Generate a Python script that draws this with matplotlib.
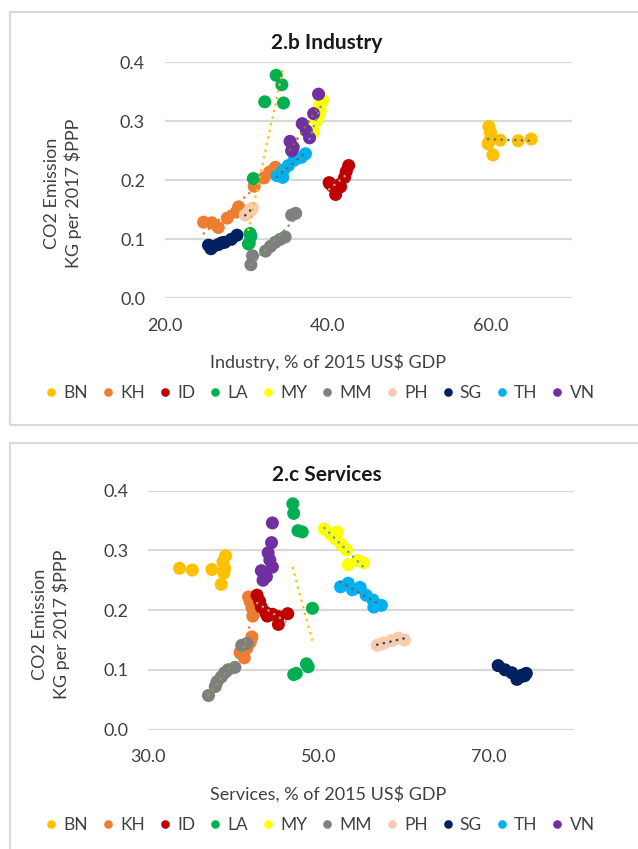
import numpy as np
import matplotlib
matplotlib.use("Agg")
import matplotlib.pyplot as plt
from matplotlib.lines import Line2D
from matplotlib.patches import Rectangle

plt.rcParams['font.family'] = ['Lato', 'DejaVu Sans']

countries = ['BN', 'KH', 'ID', 'LA', 'MY', 'MM', 'PH', 'SG', 'TH', 'VN']
marker_colors = ['#FFC000', '#ED7D31', '#C00000', '#00B050', '#FFFF00',
                 '#7F7F7F', '#F8CBAD', '#002060', '#00B0F0', '#7030A0']
# excel picks the trendline colours from its own series palette
trend_colors = ['#4472C4', '#ED7D31', '#A5A5A5', '#FFC000', '#5B9BD5',
                '#70AD47', '#264478', '#9E480E', '#636363', '#997300']

# CO2 emission, kg per 2017 $PPP
co2_BN = [0.291, 0.281, 0.270, 0.267, 0.268, 0.262, 0.243, 0.270]
co2_KH = [0.222, 0.214, 0.204, 0.190, 0.155, 0.146, 0.136, 0.128, 0.129, 0.120]
co2_ID = [0.225, 0.215, 0.205, 0.196, 0.190, 0.193, 0.176, 0.189, 0.194]
co2_LA = [0.378, 0.362, 0.333, 0.331, 0.203, 0.110, 0.105, 0.094, 0.092]
co2_MY = [0.336, 0.327, 0.331, 0.319, 0.310, 0.301, 0.276, 0.283, 0.279]
co2_MM = [0.057, 0.072, 0.080, 0.088, 0.095, 0.100, 0.104, 0.141, 0.144]
co2_PH = [0.141, 0.143, 0.145, 0.149, 0.153, 0.150]
co2_SG = [0.107, 0.100, 0.095, 0.091, 0.088, 0.084, 0.094, 0.090]
co2_TH = [0.245, 0.239, 0.238, 0.234, 0.225, 0.217, 0.208, 0.205]
co2_VN = [0.346, 0.313, 0.296, 0.284, 0.272, 0.266, 0.256, 0.250]

# industry, % of 2015 US$ GDP
ind_BN = [59.8, 60.0, 65.0, 63.4, 61.2, 59.7, 60.3, 60.0]
ind_KH = [33.6, 32.9, 32.2, 31.0, 29.1, 28.8, 27.7, 25.8, 24.8, 26.6]
ind_ID = [42.6, 42.3, 42.1, 40.2, 40.6, 41.5, 41.0, 41.6, 40.3]
ind_LA = [33.7, 34.4, 32.3, 34.6, 30.9, 30.5, 30.6, 30.4, 30.3]
ind_MY = [39.4, 39.0, 39.2, 39.1, 38.9, 38.7, 37.8, 38.3, 38.0]
ind_MM = [30.6, 30.8, 32.4, 33.0, 33.6, 34.2, 34.8, 35.6, 36.1]
ind_PH = [29.9, 30.1, 30.3, 30.6, 30.8, 30.5]
ind_SG = [28.9, 28.2, 27.4, 26.6, 26.0, 25.7, 27.0, 25.4]
ind_TH = [37.3, 36.8, 36.3, 35.9, 35.2, 34.6, 33.8, 34.5]
ind_VN = [38.9, 38.3, 36.9, 37.4, 37.8, 35.4, 35.8, 35.6]

# services, % of 2015 US$ GDP
srv_BN = [39.1, 38.8, 33.7, 35.2, 37.5, 38.9, 38.6, 39.0]
srv_KH = [41.8, 42.0, 42.2, 42.3, 42.2, 42.0, 41.6, 41.2, 40.8, 41.3]
srv_ID = [42.8, 43.1, 43.3, 43.8, 44.0, 44.6, 45.3, 45.3, 46.4]
srv_LA = [47.0, 47.1, 47.6, 48.1, 49.3, 48.6, 48.8, 47.4, 47.1]
srv_MY = [50.7, 51.4, 52.2, 52.0, 52.7, 53.3, 53.5, 54.6, 55.3]
srv_MM = [37.1, 37.9, 38.1, 38.6, 39.0, 39.4, 40.2, 41.0, 41.6]
srv_PH = [56.9, 57.3, 57.7, 58.6, 59.4, 60.1]
srv_SG = [71.1, 71.9, 72.7, 73.9, 73.7, 73.3, 74.4, 74.2]
srv_TH = [53.5, 52.6, 54.9, 54.0, 55.6, 56.4, 57.4, 56.5]
srv_VN = [44.6, 44.5, 44.1, 44.3, 44.6, 43.3, 43.9, 43.5]

co2 = [co2_BN, co2_KH, co2_ID, co2_LA, co2_MY, co2_MM, co2_PH, co2_SG, co2_TH, co2_VN]
ind = [ind_BN, ind_KH, ind_ID, ind_LA, ind_MY, ind_MM, ind_PH, ind_SG, ind_TH, ind_VN]
srv = [srv_BN, srv_KH, srv_ID, srv_LA, srv_MY, srv_MM, srv_PH, srv_SG, srv_TH, srv_VN]

# which series carry a linear trendline in each panel
trend_ind = ['BN', 'KH', 'ID', 'LA', 'MY', 'MM', 'PH', 'TH', 'VN']
trend_srv = ['KH', 'ID', 'LA', 'MY', 'MM', 'PH', 'TH']

W, H = 638, 849
txtcol = '#404040'
fnt = 13


def px(x, y):
    # pixel position (from top-left) -> figure fraction
    return x / W, 1 - y / H


def panel(fig, rect, xs, trends, xticks, xlim, title, xlabel, ytitle, ylab_x, ylab_y, leg_y):
    ax = fig.add_axes(rect)
    for i in range(len(countries)):
        ax.scatter(xs[i], co2[i], s=88, color=marker_colors[i], edgecolors='none',
                   zorder=3 + i * 0.01)
    # linear trendlines drawn over the markers
    for i, c in enumerate(countries):
        if c not in trends:
            continue
        x = np.array(xs[i])
        y = np.array(co2[i])
        k, b = np.polyfit(x, y, 1)
        xx = np.array([x.min(), x.max()])
        ax.plot(xx, k * xx + b, color=trend_colors[i], lw=1.8,
                linestyle=(0, (0.1, 2.6)), dash_capstyle='round', zorder=5)
    ax.set_xlim(*xlim)
    ax.set_ylim(0, 0.4)
    ax.set_xticks(xticks)
    ax.set_xticklabels(['%.1f' % v for v in xticks])
    ax.set_yticks(np.arange(0, 0.41, 0.1))
    ax.set_yticklabels(['%.1f' % v for v in np.arange(0, 0.41, 0.1)])
    ax.tick_params(length=0, labelsize=fnt, labelcolor=txtcol)
    ax.tick_params(axis='x', pad=14)
    ax.tick_params(axis='y', pad=14)
    ax.grid(axis='y', color='#D9D9D9', lw=1.6, zorder=0)
    ax.set_axisbelow(True)
    for s in ax.spines.values():
        s.set_visible(False)

    tx, ty = px(327, ytitle)
    fig.text(tx, ty, title, ha='center', va='center', fontsize=15,
             fontweight='bold', color='#1a1a1a')
    lx, ly = px(328, ytitle + 319)
    fig.text(lx, ly, xlabel, ha='center', va='center', fontsize=fnt, color=txtcol)
    yx, yy = px(ylab_x, ylab_y)
    fig.text(yx, yy, 'CO2 Emission\nKG per 2017 $PPP', rotation=90, ha='center',
             va='center', fontsize=fnt, color=txtcol, linespacing=1.35)

    handles = [Line2D([], [], marker='o', linestyle='None', markersize=6.2,
                      markerfacecolor=c, markeredgecolor='none') for c in marker_colors]
    gx, gy = px(320, leg_y)
    fig.legend(handles, countries, loc='center', bbox_to_anchor=(gx, gy), ncol=10,
               frameon=False, fontsize=12.5, handlelength=0.7, handletextpad=0.35,
               columnspacing=0.8, labelcolor=txtcol, borderaxespad=0, borderpad=0)
    return ax


fig = plt.figure(figsize=(W / 100, H / 100), dpi=100)
fig.patch.set_facecolor('white')

# chart area borders
for y0, y1 in [(12, 425), (443, 860)]:
    x0f, y1f = px(10, y1)
    fig.patches.append(Rectangle((x0f, y1f), 1.2, (y1 - y0) / H, transform=fig.transFigure,
                                 fill=False, edgecolor='#D9D9D9', lw=1.6, zorder=0))

l, b = px(164.5, 298.3)
r, t = px(572, 62.3)
panel(fig, [l, b, r - l, t - b], ind, trend_ind, [20, 40, 60], (20, 70), '2.b Industry',
      'Industry, % of 2015 US$ GDP', 43, 63, 193, 393)

l, b = px(148, 729.5)
r, t = px(574, 490.7)
panel(fig, [l, b, r - l, t - b], srv, trend_srv, [30, 50, 70], (30, 80), '2.c Services',
      'Services, % of 2015 US$ GDP', 475, 51, 624, 825)

fig.savefig('out.png', dpi=100, facecolor='white')
